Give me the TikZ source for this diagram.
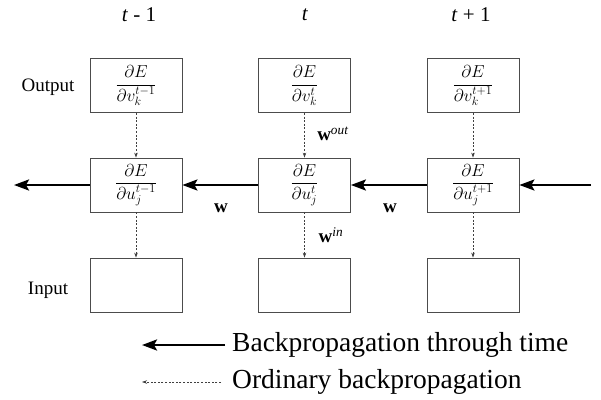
\documentclass[tikz,border=0pt]{standalone}
\usepackage{fontspec}
\setmainfont{Liberation Serif}
\usetikzlibrary{arrows.meta}
\newcommand{\dfr}[2]{\raisebox{-1.5pt}{$\displaystyle\frac{#1}{#2}$}}
\begin{document}
\begin{tikzpicture}[x=1pt,y=-1pt,
  cell/.style={draw=black!70, line width=0.8pt, minimum width=92pt, minimum height=54pt, inner sep=0pt, font=\fontsize{18.5}{20}\selectfont},
  lbl/.style={font=\fontsize{19}{21}\selectfont, inner sep=0pt},
  hdr/.style={font=\fontsize{21}{23}\selectfont, inner sep=0pt},
  leg/.style={font=\fontsize{27.5}{30}\selectfont, inner sep=0pt, anchor=west},
  bptt/.style={line width=2.4pt, -{Stealth[length=15pt,width=11pt,inset=3pt]}},
  ordbp/.style={draw=black!75, line width=0.6pt, dash pattern=on 2pt off 1.6pt, -{Stealth[length=5pt,width=3.5pt]}}
]
\useasboundingbox (0,0) rectangle (601,399);
% header labels
\node[hdr] (h1) at (139,15) {\textit{t} - 1};
\node[hdr] (h2) at (305,15) {\textit{t}};
\node[hdr] (h3) at (471,15) {\textit{t} + 1};
\node[lbl] (out) at (48,87) {Output};
\node[lbl] (in) at (48,290) {Input};
% boxes
\node[cell] (o1) at (136,85.5) {\dfr{\partial E}{\partial v_k^{t-1}}};
\node[cell] (o2) at (304.5,85.5) {\dfr{\partial E}{\partial v_k^{t}}};
\node[cell] (o3) at (473,85.5) {\dfr{\partial E}{\partial v_k^{t+1}}};
\node[cell] (m1) at (136,185) {\dfr{\partial E}{\partial u_j^{t-1}}};
\node[cell] (m2) at (304.5,185) {\dfr{\partial E}{\partial u_j^{t}}};
\node[cell] (m3) at (473,185) {\dfr{\partial E}{\partial u_j^{t+1}}};
\node[cell] (i1) at (136,285) {};
\node[cell] (i2) at (304.5,285) {};
\node[cell] (i3) at (473,285) {};
% dashed arrows
\draw[ordbp] (o1) -- (m1);
\draw[ordbp] (o2) -- (m2);
\draw[ordbp] (o3) -- (m3);
\draw[ordbp] (m1) -- (i1);
\draw[ordbp] (m2) -- (i2);
\draw[ordbp] (m3) -- (i3);
% thick arrows
\coordinate (lend) at (14,185);
\coordinate (rstart) at (591,185);
\draw[bptt] (m1.west) -- (lend);
\draw[bptt] (m2.west) -- (m1.east);
\draw[bptt] (m3.west) -- (m2.east);
\draw[bptt] (rstart) -- (m3.east);
% weight labels
\node[lbl] (w1) at (221,208) {\textbf{w}};
\node[lbl] (w2) at (390,208) {\textbf{w}};
\node[lbl] (wout) at (333,134) {\textbf{w}\textsuperscript{\textit{out}}};
\node[lbl] (win) at (331,235) {\textbf{w}\textsuperscript{\textit{in}}};
% legend
\coordinate (la) at (225,345);
\coordinate (lb) at (142,345);
\coordinate (lc) at (221,382);
\coordinate (ld) at (142,382);
\draw[bptt] (la) -- (lb);
\draw[ordbp] (lc) -- (ld);
\node[leg] (t1) at (232,345) {Backpropagation through time};
\node[leg] (t2) at (232,382) {Ordinary backpropagation};
\end{tikzpicture}
\end{document}
